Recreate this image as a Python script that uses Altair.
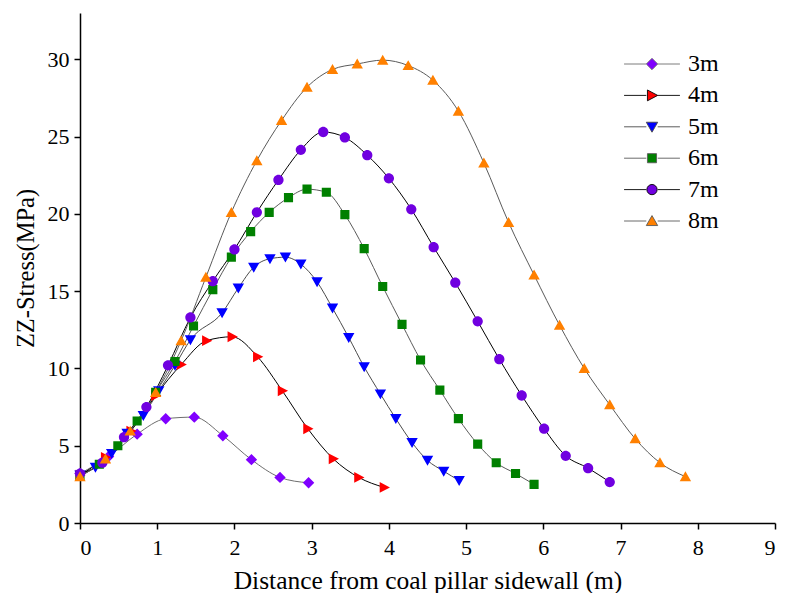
import altair as alt
import pandas as pd

series = ["3m", "4m", "5m", "6m", "7m", "8m"]

x3 = [0, 0.37, 0.74, 1.11, 1.48, 1.85, 2.22, 2.59, 2.96]
y3 = [3.2, 4.3, 5.75, 6.75, 6.85, 5.65, 4.1, 2.95, 2.6]

x4 = [0, 0.33, 0.66, 0.98, 1.31, 1.64, 1.97, 2.30, 2.62, 2.95, 3.28, 3.61, 3.94]
y4 = [3.1, 4.25, 5.95, 8.25, 10.25, 11.8, 12.05, 10.75, 8.55, 6.1, 4.15, 2.95, 2.3]

x5 = [0, 0.20, 0.41, 0.61, 0.82, 1.02, 1.23, 1.43, 1.84, 2.05, 2.25, 2.46,
      2.66, 2.86, 3.07, 3.27, 3.48, 3.68, 3.89, 4.09, 4.30, 4.50, 4.71, 4.91]
y5 = [3.1, 3.6, 4.5, 5.8, 6.95, 8.55, 10.2, 11.85, 13.6, 15.2, 16.55, 17.1,
      17.2, 16.75, 15.6, 13.9, 12.0, 10.1, 8.35, 6.75, 5.2, 4.05, 3.35, 2.75]

x6 = [0, 0.25, 0.49, 0.74, 0.98, 1.23, 1.47, 1.72, 1.96, 2.21, 2.45, 2.70, 2.94,
      3.19, 3.43, 3.68, 3.92, 4.17, 4.41, 4.66, 4.90, 5.15, 5.39, 5.64, 5.88]
y6 = [3.05, 3.8, 5.0, 6.6, 8.45, 10.45, 12.75, 15.1, 17.2, 18.85, 20.1, 21.05, 21.6,
      21.4, 19.95, 17.75, 15.3, 12.85, 10.55, 8.6, 6.75, 5.1, 3.9, 3.2, 2.5]

x7 = [0, 0.29, 0.57, 0.86, 1.14, 1.43, 1.72, 2.00, 2.29, 2.57, 2.86, 3.15, 3.43,
      3.72, 4.00, 4.29, 4.58, 4.86, 5.15, 5.43, 5.72, 6.01, 6.29, 6.58, 6.86]
y7 = [3.2, 3.9, 5.55, 7.5, 10.2, 13.3, 15.65, 17.7, 20.1, 22.2, 24.15, 25.3, 24.95,
      23.8, 22.3, 20.3, 17.85, 15.55, 13.05, 10.6, 8.25, 6.1, 4.35, 3.55, 2.65]

x8 = [0, 0.33, 0.65, 0.98, 1.31, 1.63, 1.96, 2.29, 2.61, 2.94, 3.27, 3.59, 3.92,
      4.25, 4.57, 4.90, 5.23, 5.55, 5.88, 6.21, 6.53, 6.86, 7.19, 7.51, 7.84]
y8 = [3.0, 4.15, 5.95, 8.45, 11.8, 15.9, 20.1, 23.45, 26.05, 28.2, 29.35, 29.7, 29.95,
      29.6, 28.65, 26.65, 23.3, 19.45, 16.05, 12.8, 10.0, 7.65, 5.45, 3.9, 3.0]

marker_colors = ["#8000ff", "#ff0000", "#0000ff", "#008000", "#7000e0", "#ff8000"]
line_colors = ["#6e6e6e", "#000000", "#4a4a4a", "#5a5a5a", "#000000", "#5a5a5a"]

x_ticks = [i * 0.5 for i in range(19)]
y_ticks = [i * 2.5 for i in range(14)]

rows = []
for name, xs, ys in zip(series, [x3, x4, x5, x6, x7, x8], [y3, y4, y5, y6, y7, y8]):
    for i, (a, b) in enumerate(zip(xs, ys)):
        rows.append({"series": name, "x": a, "y": b, "order": i})
df = pd.DataFrame(rows)

stub = "M-4.9,0H-1M1,0H4.9"
shapes = [
    stub + "M0,-1L1,0L0,1L-1,0Z",
    stub + "M1,0L-0.8,-0.95L-0.8,0.95Z",
    stub + "M-1,-0.8L1,-0.8L0,0.95Z",
    stub + "M-0.8,-0.8H0.8V0.8H-0.8Z",
    stub + "M0.9,0A0.9,0.9,0,1,1,-0.9,0A0.9,0.9,0,1,1,0.9,0Z",
    stub + "M0,-0.95L1,0.8L-1,0.8Z",
]

FONT = "Liberation Serif"

xscale = alt.Scale(domain=[0, 9], nice=False, zero=False)
yscale = alt.Scale(domain=[0, 33], nice=False, zero=False)

xaxis = alt.Axis(
    values=x_ticks,
    format=".1f",
    labelExpr="datum.value % 1 === 0 ? format(datum.value, 'd') : ''",
    tickSize={"condition": {"test": "datum.value % 1 !== 0", "value": 3.5}, "value": 6},
    grid=False,
    labelPadding=8,
    titlePadding=10,
    labelFont=FONT,
    labelFontSize=22,
    titleFont=FONT,
    titleFontSize=25.5,
)
yaxis = alt.Axis(
    values=y_ticks,
    labelExpr="datum.value % 5 === 0 ? format(datum.value, 'd') : ''",
    tickSize={"condition": {"test": "datum.value % 5 !== 0", "value": 3.5}, "value": 6},
    grid=False,
    labelPadding=5,
    titlePadding=9,
    labelFont=FONT,
    labelFontSize=22,
    titleFont=FONT,
    titleFontSize=24.5,
)

legend = alt.Legend(
    title=None,
    orient="none",
    legendX=532,
    legendY=39,
    symbolSize=130,
    symbolStrokeWidth=0.9,
    symbolOpacity=1,
    symbolOffset=28,
    labelOffset=24,
    labelFont=FONT,
    labelFontSize=24,
    labelColor="black",
    rowPadding=7.4,
)

base = alt.Chart(df)

lines = base.mark_line(interpolate="monotone", strokeWidth=1).encode(
    x=alt.X("x:Q", scale=xscale, axis=xaxis, title="Distance from coal pillar sidewall (m)"),
    y=alt.Y("y:Q", scale=yscale, axis=yaxis, title="ZZ-Stress(MPa)"),
    stroke=alt.Stroke("series:N", scale=alt.Scale(domain=series, range=line_colors), legend=legend),
    detail="series:N",
    order="order:Q",
)

points = base.mark_point(filled=True, size=130, opacity=1).encode(
    x=alt.X("x:Q"),
    y=alt.Y("y:Q"),
    color=alt.Color("series:N", scale=alt.Scale(domain=series, range=marker_colors), legend=legend),
    shape=alt.Shape("series:N", scale=alt.Scale(domain=series, range=shapes), legend=legend),
)

chart = (
    alt.layer(lines, points)
    .properties(
        width=695,
        height=510,
        padding={"left": 72, "top": 5, "right": 4, "bottom": 70},
        autosize=alt.AutoSizeParams(type="none"),
        background="white",
    )
    .configure_view(stroke=None)
    .configure_axis(
        domainColor="black",
        domainWidth=1.5,
        tickColor="black",
        tickWidth=1.5,
        labelColor="black",
        titleFontWeight="normal",
        titleColor="black",
    )
)

chart.save("out.html", embed_options={"renderer": "svg", "actions": False})
